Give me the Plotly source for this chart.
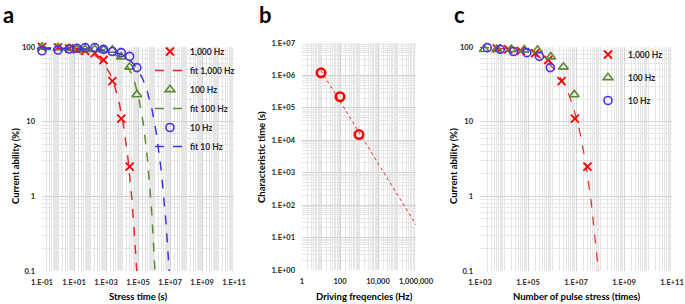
import numpy as np
import plotly.graph_objects as go

# ---------------- data ----------------
# Panel a: stress time (s) and current ability (%)
time_s = [0.1, 1, 5, 15, 50, 200, 700, 2500, 9000, 30000, 85000]
cur_1000hz = [100, 99, 96, 93, 89, 83, 67, 35, 11, 2.5]
cur_100hz = [100, 98, 96, 93, 93, 93, 92, 91, 74, 54, 23]
cur_10hz = [89, 91, 94, 96, 98, 98, 93, 87, 84, 75, 53]

# stretched-exponential fit parameters
fit_freq = [1000, 100, 10]
fit_amp = [100, 93, 96]
fit_tau = [2500, 6.0e4, 2.2e5]
fit_beta = [0.55, 0.65, 0.52]

# Panel b: characteristic time vs driving frequency
drive_freq = [10, 100, 1000]
char_time = [1.2e6, 2.2e5, 1.5e4]

# tick labels
a_xticks = ["1.E-01", "1.E+01", "1.E+03", "1.E+05", "1.E+07", "1.E+09", "1.E+11"]
ab_yticks = ["0.1", "1", "10", "100"]
b_xticks = ["1", "100", "10,000", "1,000,000"]
b_yticks = ["1.E+00", "1.E+01", "1.E+02", "1.E+03", "1.E+04", "1.E+05", "1.E+06", "1.E+07"]
c_xticks = ["1.E+03", "1.E+05", "1.E+07", "1.E+09", "1.E+11"]

# ---------------- styles ----------------
W, H = 685, 304
FONT = "Lato"
TXT = "#262626"
RED = "#ff0000"
RED_L = "#e8282b"
GREEN = "#5a8a32"
BLUE = "#4b2fe6"
BLUE_L = "#3a36e0"
GRID = "#d4d4d4"
MGRID = "#e6e6e6"

def px_x(p):
    return p / W

def px_y(p):
    return 1 - p / H

def minor_vals(lo, hi):
    return [m * 10.0 ** k for k in range(lo, hi) for m in range(1, 10)] + [10.0 ** hi]

def fit_curve(amp, tau, beta, t0, floor=0.1, n=300):
    t_end = tau * np.log(amp / floor) ** (1 / beta)
    t = np.logspace(np.log10(t0), np.log10(t_end), n)
    return t, amp * np.exp(-(t / tau) ** beta)

fig = go.Figure()

# ---------------- panel a ----------------
series = [
    ("1,000 Hz", cur_1000hz, dict(symbol="x-thin-open", size=8, color=RED, line=dict(color=RED, width=1.8)), RED_L, "fit 1,000 Hz"),
    ("100 Hz", cur_100hz, dict(symbol="triangle-up-open", size=8.5, color=GREEN, line=dict(color=GREEN, width=1.6)), GREEN, "fit 100 Hz"),
    ("10 Hz", cur_10hz, dict(symbol="circle-open", size=8, color=BLUE, line=dict(color=BLUE, width=1.6)), BLUE_L, "fit 10 Hz"),
]
for i, (name, vals, mk, lc, fname) in enumerate(series):
    fig.add_trace(go.Scatter(x=time_s[:len(vals)], y=vals, mode="markers", name=name,
                             marker=mk, xaxis="x", yaxis="y", cliponaxis=False,
                             legend="legend"))
    tf, yf = fit_curve(fit_amp[i], fit_tau[i], fit_beta[i], time_s[0])
    fig.add_trace(go.Scatter(x=tf, y=yf, mode="lines", name=fname,
                             line=dict(color=lc, width=1.5, dash="dash"),
                             xaxis="x", yaxis="y", legend="legend"))

# ---------------- panel b ----------------
k, c0 = np.polyfit(np.log10(drive_freq), np.log10(char_time), 1)
fb = np.logspace(np.log10(drive_freq[0]), 6, 50)
fig.add_trace(go.Scatter(x=fb, y=10 ** (c0 + k * np.log10(fb)), mode="lines",
                         line=dict(color=RED_L, width=1, dash="dot"),
                         xaxis="x2", yaxis="y2", showlegend=False))
fig.add_trace(go.Scatter(x=drive_freq, y=char_time, mode="markers",
                         marker=dict(symbol="circle-open", size=8.5, color=RED, line=dict(color=RED, width=2.5)),
                         xaxis="x2", yaxis="y2", showlegend=False, cliponaxis=False))

# ---------------- panel c ----------------
# number of pulses = stress time x frequency
t_fit, y_fit = fit_curve(fit_amp[0], fit_tau[0], fit_beta[0], 1.0)
fig.add_trace(go.Scatter(x=t_fit * fit_freq[0], y=y_fit, mode="lines",
                         line=dict(color=RED_L, width=1.2, dash="dash"),
                         xaxis="x3", yaxis="y3", showlegend=False))
for (name, vals, mk, lc, fname), f in zip(series, fit_freq):
    npulse = [t * f for t in time_s[:len(vals)]]
    keep = [j for j, n in enumerate(npulse) if n >= 1e3]
    fig.add_trace(go.Scatter(x=[npulse[j] for j in keep], y=[vals[j] for j in keep],
                             mode="markers", name=name, marker=mk,
                             xaxis="x3", yaxis="y3", cliponaxis=False,
                             legend="legend2", legendgroup=name))

# ---------------- axes ----------------
tickfont = dict(family=FONT, size=7.5, color=TXT, weight="bold")

def log_axis(domain, lo, hi, tickvals, ticktext, anchor, standoff):
    return dict(domain=domain, type="log", range=[lo, hi], tickmode="array",
                tickvals=tickvals, ticktext=ticktext, showgrid=True, gridcolor=GRID,
                gridwidth=1, zeroline=False, showline=False, ticks="",
                tickfont=tickfont, anchor=anchor, ticklabelstandoff=standoff,
                automargin=False,
                minor=dict(tickmode="array", tickvals=minor_vals(lo, hi), showgrid=True,
                           gridcolor=MGRID, gridwidth=1, ticks=""),
                fixedrange=True)

fig.update_layout(
    xaxis=log_axis([px_x(42), px_x(234)], -1, 11, [10.0 ** e for e in range(-1, 12, 2)], a_xticks, "y", 5),
    yaxis=log_axis([px_y(271), px_y(47)], -1, 2, [0.1, 1, 10, 100], ab_yticks, "x", 6),
    xaxis2=log_axis([px_x(302), px_x(416)], 0, 6, [1, 1e2, 1e4, 1e6], b_xticks, "y2", 5),
    yaxis2=log_axis([px_y(270), px_y(43)], 0, 7, [10.0 ** e for e in range(0, 8)], b_yticks, "x2", 6),
    xaxis3=log_axis([px_x(480), px_x(672)], 3, 11, [10.0 ** e for e in range(3, 12, 2)], c_xticks, "y3", 5),
    yaxis3=log_axis([px_y(271), px_y(47)], -1, 2, [0.1, 1, 10, 100], ab_yticks, "x3", 6),
)

legfont = dict(family=FONT, size=8.5, color=TXT, weight="bold")
fig.update_layout(
    width=W, height=H, margin=dict(l=0, r=0, t=0, b=0, autoexpand=False),
    paper_bgcolor="white", plot_bgcolor="white",
    legend=dict(x=px_x(150), y=px_y(37), xanchor="left", yanchor="top",
                bgcolor="rgba(0,0,0,0)", font=legfont, itemwidth=30, tracegroupgap=0),
    legend2=dict(x=px_x(588), y=px_y(40), xanchor="left", yanchor="top",
                 bgcolor="rgba(0,0,0,0)", font=legfont, itemwidth=30, tracegroupgap=4),
)

# ---------------- titles & panel letters ----------------
def ann(text, x, y, size, angle=0, xanchor="center", yanchor="middle"):
    fig.add_annotation(text=text, x=px_x(x), y=px_y(y), xref="paper", yref="paper",
                       showarrow=False, textangle=angle, xanchor=xanchor, yanchor=yanchor,
                       font=dict(family=FONT, size=size, color="black", weight="bold"))

ann("Stress time (s)", 138, 296, 9.5)
ann("Driving freqencies (Hz)", 364, 296, 9.5)
ann("Number of pulse stress (times)", 577, 296, 9.5)
ann("Current ability (%)", 15, 166, 9.5, angle=-90)
ann("Characteristic time (s)", 261, 157, 9.5, angle=-90)
ann("Current ability (%)", 453, 166, 9.5, angle=-90)

ann("a", 1, 15, 22, xanchor="left")
ann("b", 257, 15, 22, xanchor="left")
ann("c", 452, 15, 22, xanchor="left")

fig.write_html("out.html", config={"displayModeBar": False},
               post_script="document.body.style.margin='0';")
